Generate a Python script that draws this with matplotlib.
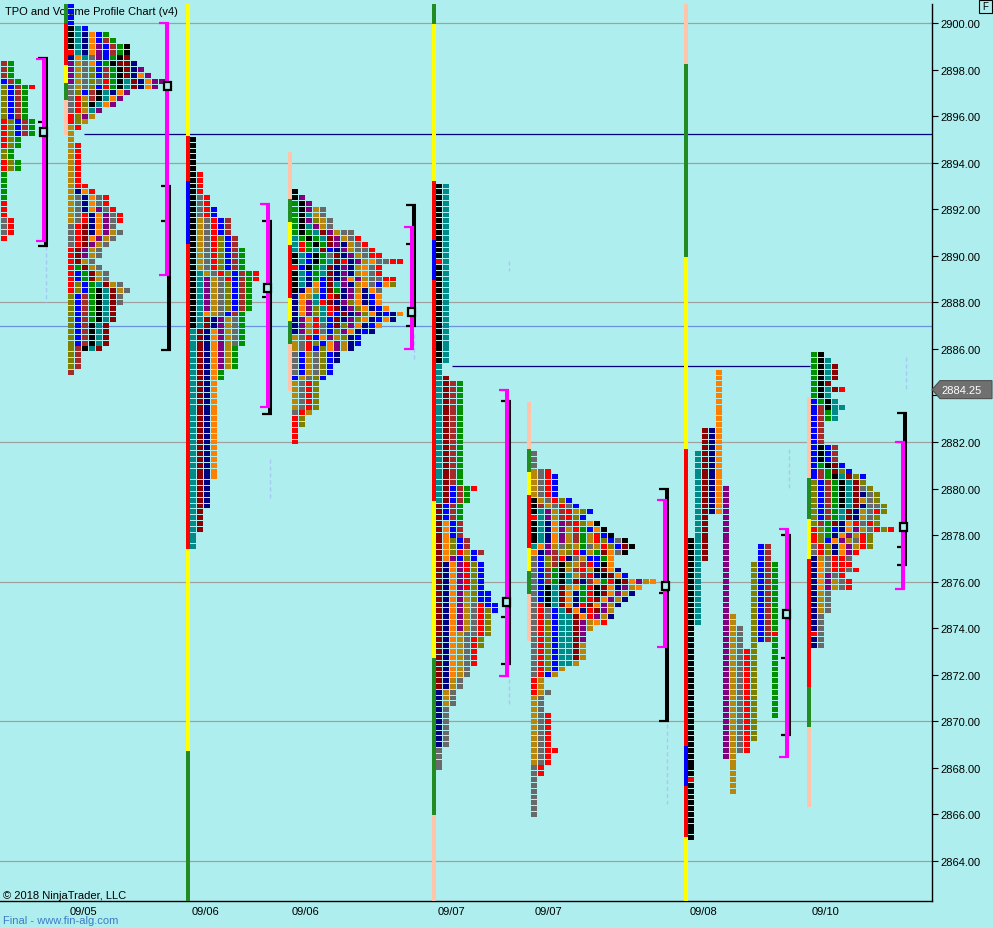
import matplotlib
matplotlib.use("Agg")
import matplotlib.pyplot as plt
from matplotlib.patches import Rectangle, Polygon

plt.rcParams['font.family'] = ['Liberation Sans', 'DejaVu Sans']

BG = '#AFEEEE'
TPO_COLORS = {'R': '#FF0000', 'O': '#808000', 'G': '#009000', 'B': '#0000FF',
              'W': '#A52A2A', 'D': '#B8860B', 'Y': '#696969', 'K': '#8B0000',
              'N': '#000080', 'A': '#FF8000', 'P': '#800080', 'T': '#008B8B',
              'X': '#000000'}
BAR_COLORS = {'y': '#FFFF00', 'g': '#228B22', 's': '#FFC4AA', 'r': '#FF0000', 'b': '#0000FF'}

# ---------------- data ----------------
PRICE_TICKS = [2864 + 2 * i for i in range(19)]
GRID_PRICES = [2900, 2894, 2888, 2882, 2876, 2870, 2864]
DATE_LABELS = ['09/05', '09/06', '09/06', '09/07', '09/07', '09/08', '09/10']

# TPO rows from the top price down, one letter per period ("XT*13" = 13 such rows)
A_TOP = 2898.25
A_ROWS = ["WG*3", "BWG", "OBWGR", "OBWG*5", "ROBWG*3", "ROG*2", "OG*2", "ROG*2",
          "G*5", "R*3", "YR*3", "R"]

B_TOP = 2900.75
B_ROWS = ["B*4", "XTB", "XTNABG", "XTNABWG", "XTNAPBWGX", "RTNAPBWGX", "NATYPBGXK",
          "PDYABGXKKN", "PDYOBWGXKNP", "PDYOBWGXKNAP", "PDYOYRGXTKNAPP",
          "YDYOBRGXTKNAP", "YOBWXTNAP", "YRDWXTAP", "YROXTAP", "YRDTP", "ROPD", "ROD", "DR",
          "D*2", "DR*7", "DRR", "DNAR", "DYNAYR*2", "DYNAPYR", "DYRNAPYR*2", "YRKNAPY",
          "YRKNAPDY", "YRKAPDY", "YRKPDY", "RKPDY*2", "RKDY", "RGKDY", "RBGKDY*2",
          "ROBGTKDY", "ROBGXTKDY", "OBWGXTKY*2", "OBWGXTK*3", "OBWXTK*4", "OWXTK",
          "OW*3", "W"]

C_TOP = 2895.0
C_ROWS = ["X*6", "XR*4", "XYR*2", "XYRB*2", "XDYRBW*3", "XDYROBW*2", "XDYROBWG*4",
          "XTDYROBWGR", "XTPDYRBWGR", "XTPDYOBWG*5", "XTADYBWG", "XTKNPDYG*2",
          "TKNAPDYG*3", "TKNAPDG*4", "TKNAG*2", "TKNA*17", "TKN*5", "TK*4", "T*3"]

D_TOP = 2892.75
D_ROWS = ["X", "XP", "GXP", "GXPDY", "GXTDY", "GXPODY", "GXTPDY", "GXGTKPDYY",
          "TGXGTKPDYR", "TRGXGKPNDYR", "TRGTKBNPDYYR", "XTBXGYKNPDYRR",
          "XTBXGTKRNPDAYYRR", "RBXGTKNPNDAYR", "XTBGTKNPNDAYR", "XTNGBKNPAPDYYRR",
          "XTNABKTPNDAYBAO", "XNADBKGNPDNAY", "NADTBRKNPANBA", "NAPTRKNPOANBA",
          "NAPOTRKNPOANBA", "NAPOTRBKNPOANBNA", "NPARTBKNPOANBAN", "NPDRYBKOPANBA",
          "NPDRYBOPANBN", "DYRBAPDONB", "DYROBAPDNB", "DYRBOAPDN", "YBDYOBN*2",
          "YBDYOB*2", "BDYOB", "DYRO*5", "YRD", "RO*2", "R*3"]

E_TOP = 2893.0
E_ROWS = ["XT*13", "RT", "XT*17", "T*2", "TK", "TKWG*18", "TKBWGR", "TKBWG*2", "KBWG*3",
          "KABW*3", "KAOBW*2", "KAORDBW", "KAPBOB", "KNAPROB*5", "KNAPDOBB*2",
          "KNAPDYRBB", "KNAPDYROB", "KNAPDYRO*3", "KNADYYRO", "KNADYRO*2", "KNADYR*3",
          "KNADY*2", "KNDY*2", "NDY*3", "NY*7", "Y*4"]

F_TOP = 2881.5
F_ROWS = ["Y*3", "DYR", "DYRB*4", "XDYROB", "XWDYRYB", "XTPDWRDOB", "RTPDWROB",
          "XTNAPWROAX", "XTNAPDRGBAX", "XTNAPDWGDRBX", "XTNAPDWGDROBYX",
          "TAPDYODGYDROBKX", "ANPWDORBDGKAYX", "YBOWRNYDBBGA", "YBOWXODWRBXA",
          "YBWGXDWRDXKAN", "YBWGXTDWRNXKAB", "YBWGXTKNWAGRXKAPDA", "YBXTKDAGRXKANPDA",
          "YBXTKANGRXKAPDN", "YBXTKANGRKAPDN", "YRXTKANRKAPDN", "YRYBTKANRKPD",
          "YRYBTTKARPDN", "YROBTTKPDAR", "YROBTTKPD", "YROBTTKP*2", "YROBTTKD",
          "YROBTTKD*2", "YROBTTD", "YROBD", "YRBD", "RD*2", "RDY", "DY*3", "DYR*6",
          "DYRR", "DYR*2", "YR*2", "Y*7"]

# 09/08 session drawn split: one column per period (colour, high, low)
G_COLS = [('X', 2877.75, 2865.0), ('T', 2881.5, 2874.25), ('K', 2882.5, 2877.0),
          ('N', 2882.5, 2879.0), ('A', 2885.0, 2879.0), ('P', 2880.0, 2868.5),
          ('D', 2874.5, 2867.0), ('Y', 2874.0, 2868.75), ('R', 2873.0, 2868.75),
          ('O', 2876.75, 2869.25), ('B', 2877.5, 2873.5), ('W', 2877.5, 2873.5),
          ('G', 2876.75, 2870.25)]
G_MARKS = [(0, 2867.5, 'R'), (12, 2873.75, 'R')]

I_TOP = 2885.75
I_ROWS = ["GX", "GXT", "GXTK*3", "GXK", "GXTKR", "GXT", "BGXT", "BWXTT", "BWGT*2", "BW*4",
          "BXBW*3", "BGXKB", "BWGKOB", "BWGXTKOB", "OBWGXTKO", "OBWGXTKYO", "OBWGXTKNYO",
          "OBWGXTKDYO", "OBWGXTKNYYO", "OBWGTKNDYRO", "OBWGTKNDYO", "OWGKNARYRO",
          "ROGBNAPDYROR", "ROGNAPDRO", "ROBAPDYRO", "YRONAPDRO", "YRONAPR", "NDYRRY",
          "NAYRRR", "NAYRRYR", "NAPYR", "NAPDYR*2", "NDY*4", "NY*3", "RY", "NY*2"]

# range bars (colour, high, low)
BAR_SEGS = [
    [('g', 2900.82, 2900.0), ('r', 2900.0, 2898.2), ('y', 2898.2, 2897.42),
     ('g', 2897.42, 2896.69), ('s', 2896.69, 2895.19)],
    [('y', 2900.82, 2895.15), ('r', 2895.15, 2893.21), ('b', 2893.21, 2890.5),
     ('r', 2890.5, 2877.4), ('y', 2877.4, 2868.73), ('g', 2868.73, 2862.28)],
    [('s', 2894.46, 2892.44), ('g', 2892.44, 2891.45), ('y', 2891.45, 2890.46),
     ('r', 2890.46, 2888.19), ('y', 2888.19, 2887.2), ('g', 2887.2, 2886.21),
     ('s', 2886.21, 2884.19)],
    [('g', 2900.82, 2899.96), ('y', 2899.96, 2893.21), ('r', 2893.21, 2890.68),
     ('b', 2890.68, 2888.96), ('r', 2888.96, 2879.47), ('y', 2879.47, 2872.72),
     ('g', 2872.72, 2865.98), ('s', 2865.98, 2862.28)],
    [('s', 2883.72, 2881.7), ('g', 2881.7, 2880.71), ('y', 2880.71, 2879.72),
     ('r', 2879.72, 2877.45), ('y', 2877.45, 2876.46), ('g', 2876.46, 2875.47),
     ('s', 2875.47, 2873.45)],
    [('s', 2900.82, 2898.24), ('g', 2898.24, 2889.95), ('y', 2889.95, 2881.7),
     ('r', 2881.7, 2868.94), ('b', 2868.94, 2867.22), ('r', 2867.22, 2865.03),
     ('y', 2865.03, 2862.28)],
    [('s', 2883.93, 2880.45), ('g', 2880.45, 2878.69), ('y', 2878.69, 2876.97),
     ('r', 2876.97, 2871.48), ('g', 2871.48, 2869.76), ('s', 2869.76, 2866.32)],
]

# value area (magenta) and range (black) brackets, POC
VA_HIGH = [2898.45, 2900.0, 2892.22, 2891.24, 2884.23, 2879.5, 2878.26, 2882.0]
VA_LOW = [2890.63, 2889.17, 2883.5, 2886.0, 2871.95, 2873.19, 2868.47, 2875.68]
RANGE_HIGH = [2898.5, 2893.0, 2891.5, 2892.2, 2883.76, 2879.98, 2878.0, 2883.25]
RANGE_LOW = [2890.42, 2885.95, 2883.2, 2887.0, 2872.46, 2870.0, 2869.41, 2876.72]
RANGE_MID = [[2895.73], [2891.5], [2888.23], [2890.5], [2874.48], [2875.5], [2872.72], [2877.49]]
POC = [2895.32, 2897.3, 2888.6, 2887.6, 2875.13, 2875.81, 2874.61, 2878.35]

# thin dashed volume marks (high, low)
VOL_MARKS = [(2890.42, 2888.01), (2881.27, 2879.55), (2886.64, 2885.44), (2889.78, 2889.35),
             (2871.82, 2870.74), (2869.89, 2866.45), (2881.7, 2879.98), (2885.65, 2884.19)]

LAST_PRICE = 2884.25

# ---------------- layout (pixel based x axis) ----------------
DATE_X = [83, 205, 306, 451, 548, 703, 826]
PROFILE_X = {'A': 1, 'B': 68, 'C': 190, 'D': 292, 'E': 436, 'F': 531, 'G': 688, 'I': 811}
BAR_X = [64, 186, 288, 432, 527, 684, 807]
VA_X = [44, 167, 268, 412, 507, 665, 787, 903]
POC_X = [43, 167, 267, 411, 506, 665, 786, 903]
VOL_X = [46, 270, 414, 509, 509, 667, 789, 906]

PX = 838 / 36.0
YTOP = 2900 + 19 / PX
YBOT = 2864 - 40 / PX
CELL_H = 0.21


def ypx(y):
    return 2900 - (y - 24) / PX


def expand(rows):
    out = []
    for r in rows:
        if '*' in r:
            s, n = r.split('*')
            out += [s] * int(n)
        else:
            out.append(r)
    return out


fig = plt.figure(figsize=(9.93, 9.29), dpi=100, facecolor=BG)
ax = fig.add_axes([0, 27 / 929, 932 / 993, 897 / 929])
ax.set_facecolor(BG)
ax.set_xlim(0, 932)
ax.set_ylim(YBOT, YTOP)

for g in GRID_PRICES:
    ax.axhline(g, color='#a0a0a0', lw=0.9, zorder=1)
ax.axhline(2887.0, color='#6b92dc', lw=0.9, zorder=1)
ax.hlines(2895.25, 84, 932, color='#000080', lw=0.9, zorder=2)
ax.hlines(2885.25, 452, 810, color='#000080', lw=0.9, zorder=2)

# TPO cells
xs, ps, cs = [], [], []
for key, top, rows in [('A', A_TOP, A_ROWS), ('B', B_TOP, B_ROWS), ('C', C_TOP, C_ROWS),
                       ('D', D_TOP, D_ROWS), ('E', E_TOP, E_ROWS), ('F', F_TOP, F_ROWS),
                       ('I', I_TOP, I_ROWS)]:
    x0 = PROFILE_X[key]
    for i, row in enumerate(expand(rows)):
        for j, c in enumerate(row):
            if c != '.':
                xs.append(x0 + 7 * j)
                ps.append(top - 0.25 * i)
                cs.append(TPO_COLORS[c])
marks = {(j, p): c for j, p, c in G_MARKS}
for j, (c, hi, lo) in enumerate(G_COLS):
    n = int(round((hi - lo) / 0.25)) + 1
    for k in range(n):
        p = hi - 0.25 * k
        xs.append(PROFILE_X['G'] + 7 * j)
        ps.append(p)
        cs.append(TPO_COLORS[marks.get((j, p), c)])
ax.bar(xs, CELL_H, width=6, bottom=[p - CELL_H / 2 for p in ps], color=cs,
       align='edge', linewidth=0, zorder=3)

# range bars
for x, segs in zip(BAR_X, BAR_SEGS):
    for c, hi, lo in segs:
        ax.add_patch(Rectangle((x, lo), 4, hi - lo, facecolor=BAR_COLORS[c],
                               edgecolor='none', zorder=4))

# dashed volume marks
for x, (hi, lo) in zip(VOL_X, VOL_MARKS):
    ax.plot([x, x], [hi, lo], color='#a8c8f4', lw=1.0, ls=(0, (3, 2)), zorder=2)

# brackets
for x, hi, lo, mids in zip(VA_X, RANGE_HIGH, RANGE_LOW, RANGE_MID):
    xb = x + 2
    ax.plot([xb, xb], [hi, lo], color='black', lw=2.9, solid_capstyle='butt', zorder=5)
    for p in [hi, lo] + mids:
        ax.plot([xb - 8, xb + 2], [p, p], color='black', lw=1.6, solid_capstyle='butt', zorder=5)
for x, hi, lo in zip(VA_X, VA_HIGH, VA_LOW):
    ax.plot([x, x], [hi, lo], color='#FF00FF', lw=2.9, solid_capstyle='butt', zorder=6)
    for p in [hi, lo]:
        ax.plot([x - 8, x + 2], [p, p], color='#FF00FF', lw=1.6, solid_capstyle='butt', zorder=6)
for x, p in zip(POC_X, POC):
    ax.add_patch(Rectangle((x - 3.5, p - 4 / PX), 7, 8 / PX, facecolor=BG,
                           edgecolor='black', lw=1.6, zorder=7))

# axes styling
for s in ['left', 'top']:
    ax.spines[s].set_visible(False)
ax.spines['right'].set_linewidth(1.0)
ax.spines['bottom'].set_linewidth(1.0)
ax.yaxis.tick_right()
ax.set_yticks(PRICE_TICKS)
# the tick label under the last-price marker is hidden, as on the chart
ax.set_yticklabels(['' if abs(v - LAST_PRICE) < 0.5 else '%.2f' % v for v in PRICE_TICKS])
ax.tick_params(axis='y', length=4.3, width=0.8, pad=1.5, labelsize=8)
ax.set_xticks(DATE_X)
ax.set_xticklabels(DATE_LABELS)
ax.tick_params(axis='x', length=0, pad=3.5, labelsize=8)

ax.text(5, ypx(12), 'TPO and Volume Profile Chart (v4)', fontsize=8, va='center', zorder=1.5)
ax.text(3, ypx(896), '\u00a9 2018 NinjaTrader, LLC', fontsize=8, va='center', zorder=8)
fig.text(3 / 993, 1 - 921 / 929, 'Final - www.fin-alg.com', fontsize=8, va='center',
         color='#3c7bc6')

# last price marker
yl = 1 - (24 + (2900 - LAST_PRICE) * PX) / 929
hh = 9 / 929
pts = [(932 / 993, yl), (940 / 993, yl + hh), (992 / 993, yl + hh), (992 / 993, yl - hh),
       (940 / 993, yl - hh)]
fig.patches.append(Polygon(pts, closed=True, transform=fig.transFigure, facecolor='#707070',
                           edgecolor='#505050', lw=0.8))
fig.text(941 / 993, yl, '%.2f' % LAST_PRICE, fontsize=8, color='white', va='center')

# "F" box
fig.patches.append(Rectangle((979 / 993, 1 - 14 / 929), 13 / 993, 13 / 929,
                             transform=fig.transFigure, facecolor='none',
                             edgecolor='black', lw=0.8))
fig.text(985.5 / 993, 1 - 7.5 / 929, 'F', fontsize=7, ha='center', va='center')

fig.savefig('out.png', dpi=100, facecolor=BG)
